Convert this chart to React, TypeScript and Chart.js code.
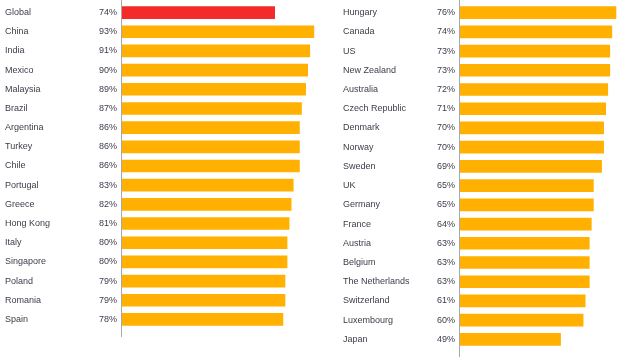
import React, { useEffect, useRef } from "react";
import { Chart, registerables } from "chart.js";

Chart.register(...registerables);

const leftNames = ["Global", "China", "India", "Mexico", "Malaysia", "Brazil", "Argentina", "Turkey", "Chile", "Portugal", "Greece", "Hong Kong", "Italy", "Singapore", "Poland", "Romania", "Spain"];
const leftValues = [74, 93, 91, 90, 89, 87, 86, 86, 86, 83, 82, 81, 80, 80, 79, 79, 78];

const rightNames = ["Hungary", "Canada", "US", "New Zealand", "Australia", "Czech Republic", "Denmark", "Norway", "Sweden", "UK", "Germany", "France", "Austria", "Belgium", "The Netherlands", "Switzerland", "Luxembourg", "Japan"];
const rightValues = [76, 74, 73, 73, 72, 71, 70, 70, 69, 65, 65, 64, 63, 63, 63, 61, 60, 49];

const ORANGE = "#FFB000";
const RED = "#F42A2A";
const TEXT = "#3c3c4a";
const FONT = { family: "'Liberation Sans', Arial, sans-serif", size: 9 };

type PanelProps = {
  names: string[];
  values: number[];
  left: number;
  width: number;
  padLeft: number;
  padRight: number;
  padBottom: number;
  xMax: number;
  lineExtra: number;
};

function Panel(p: PanelProps) {
  const ref = useRef<HTMLCanvasElement | null>(null);
  useEffect(() => {
    if (!ref.current) return;
    const axisLine = {
      id: "axisLine",
      beforeDatasetsDraw(chart: any) {
        const { ctx, chartArea } = chart;
        const x = Math.round(chart.scales.x.getPixelForValue(0)) - 0.5;
        ctx.save();
        ctx.strokeStyle = "#a8a8a8";
        ctx.lineWidth = 1;
        ctx.beginPath();
        ctx.moveTo(x, 0);
        ctx.lineTo(x, chartArea.bottom + p.lineExtra);
        ctx.stroke();
        ctx.restore();
      },
    };
    const fitY = (w: number) => (s: any) => {
      s.width = w;
      s.paddingTop = 0;
      s.paddingBottom = 0;
    };
    const chart = new Chart(ref.current, {
      type: "bar",
      data: {
        labels: p.names,
        datasets: [
          {
            data: p.values,
            backgroundColor: p.names.map((n) => (n === "Global" ? RED : ORANGE)),
            barThickness: 12,
            yAxisID: "y",
          },
        ],
      },
      options: {
        indexAxis: "y",
        animation: false,
        responsive: false,
        events: [],
        layout: { padding: { left: p.padLeft, right: p.padRight, top: 3, bottom: p.padBottom } },
        plugins: { legend: { display: false }, tooltip: { enabled: false } },
        scales: {
          x: { display: false, min: 0, max: p.xMax },
          y: {
            type: "category",
            position: "left",
            weight: 2,
            grid: { display: false, drawTicks: false },
            border: { display: false },
            ticks: { crossAlign: "far", padding: 0, color: TEXT, font: FONT, autoSkip: false },
            afterFit: fitY(75),
          },
          y2: {
            type: "category",
            position: "left",
            weight: 1,
            labels: p.values.map((v) => v + "%"),
            grid: { display: false, drawTicks: false },
            border: { display: false },
            ticks: { padding: 5, color: TEXT, font: FONT, autoSkip: false },
            afterFit: fitY(42),
          },
        },
      },
      plugins: [axisLine],
    } as any);
    return () => chart.destroy();
  }, []);
  return (
    <canvas
      ref={ref}
      width={p.width}
      height={357}
      style={{ position: "absolute", left: p.left, top: 0, width: p.width, height: 357 }}
    />
  );
}

export default function App() {
  return (
    <div style={{ position: "fixed", left: 0, top: 0, width: 620, height: 357, background: "#fff", overflow: "hidden" }}>
      <Panel names={leftNames} values={leftValues} left={0} width={320} padLeft={5} padRight={2} padBottom={28} xMax={95} lineExtra={8} />
      <Panel names={rightNames} values={rightValues} left={310} width={310} padLeft={33} padRight={2} padBottom={8} xMax={77} lineExtra={20} />
    </div>
  );
}
